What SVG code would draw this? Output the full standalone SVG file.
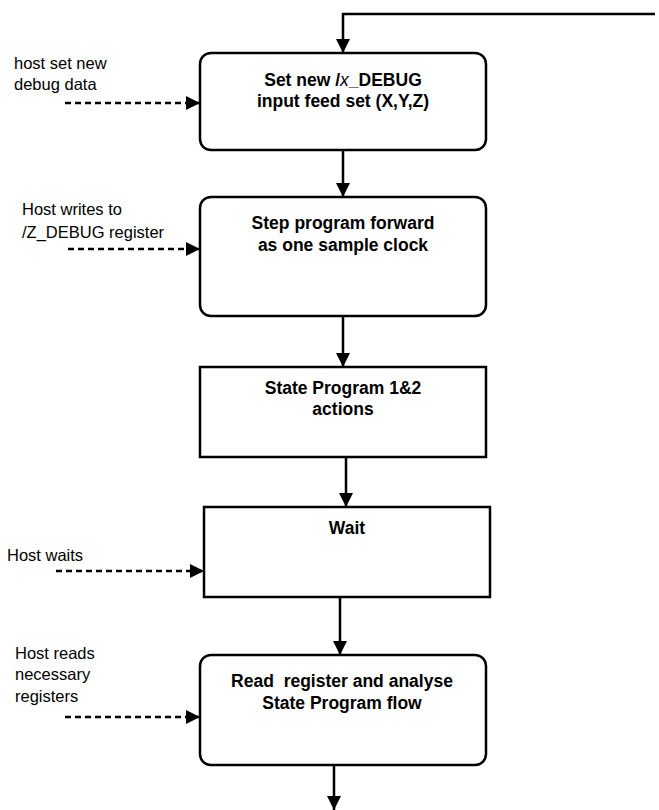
<svg xmlns="http://www.w3.org/2000/svg" width="659" height="810" viewBox="0 0 659 810">
<style>
.box{fill:#fff;stroke:#000;stroke-width:2.5}
.t{font-family:"Liberation Sans",Arial,sans-serif;font-size:17.5px;font-weight:bold;text-anchor:middle;fill:#000}
.l{font-family:"Liberation Sans",Arial,sans-serif;font-size:16.5px;fill:#000}
.c{fill:none;stroke:#000;stroke-width:2.5}
.d{fill:none;stroke:#000;stroke-width:2.5;stroke-dasharray:6,4}
</style>
<defs>
<marker id="ah" markerUnits="userSpaceOnUse" markerWidth="14" markerHeight="14" refX="14" refY="7" orient="auto" viewBox="0 0 14 14">
<path d="M0,0 L14,7 L0,14 Z" fill="#000"/>
</marker>
</defs>
<g id="connectors">
<path class="c" d="M655,14 H343 V53" marker-end="url(#ah)"/>
<path class="c" d="M343,150 V197" marker-end="url(#ah)"/>
<path class="c" d="M343,316 V367" marker-end="url(#ah)"/>
<path class="c" d="M346,457 V507" marker-end="url(#ah)"/>
<path class="c" d="M340,597 V655" marker-end="url(#ah)"/>
<path class="c" d="M334,765 V810" marker-end="url(#ah)"/>
<path class="d" d="M65,103 H200" marker-end="url(#ah)"/>
<path class="d" d="M68,249 H200" marker-end="url(#ah)"/>
<path class="d" d="M56,571 H204" marker-end="url(#ah)"/>
<path class="d" d="M65,717 H200" marker-end="url(#ah)"/>
</g>
<g id="n1">
<rect class="box" x="200" y="53" width="286" height="97" rx="11"/>
<text class="t" x="343" y="86">Set new /<tspan font-style="italic" font-weight="normal">x</tspan>_DEBUG</text>
<text class="t" x="343" y="107">input feed set (X,Y,Z)</text>
</g>
<g id="n2">
<rect class="box" x="200" y="197" width="286" height="119" rx="11"/>
<text class="t" x="343" y="229">Step program forward</text>
<text class="t" x="343" y="251">as one sample clock</text>
</g>
<g id="n3">
<rect class="box" x="200" y="367" width="286" height="90"/>
<text class="t" x="343" y="394">State Program 1&amp;2</text>
<text class="t" x="343" y="415">actions</text>
</g>
<g id="n4">
<rect class="box" x="204" y="507" width="286" height="90"/>
<text class="t" x="347" y="534">Wait</text>
</g>
<g id="n5">
<rect class="box" x="200" y="655" width="286" height="110" rx="11"/>
<text class="t" x="342" y="687" xml:space="preserve">Read  register and analyse</text>
<text class="t" x="342" y="709">State Program flow</text>
</g>
<g id="labels">
<text class="l" x="14" y="69">host set new</text>
<text class="l" x="14" y="90">debug data</text>
<text class="l" x="22" y="215">Host writes to</text>
<text class="l" x="22" y="238">/Z_DEBUG register</text>
<text class="l" x="7" y="561">Host waits</text>
<text class="l" x="15" y="659">Host reads</text>
<text class="l" x="15" y="680">necessary</text>
<text class="l" x="15" y="702">registers</text>
</g>
</svg>
